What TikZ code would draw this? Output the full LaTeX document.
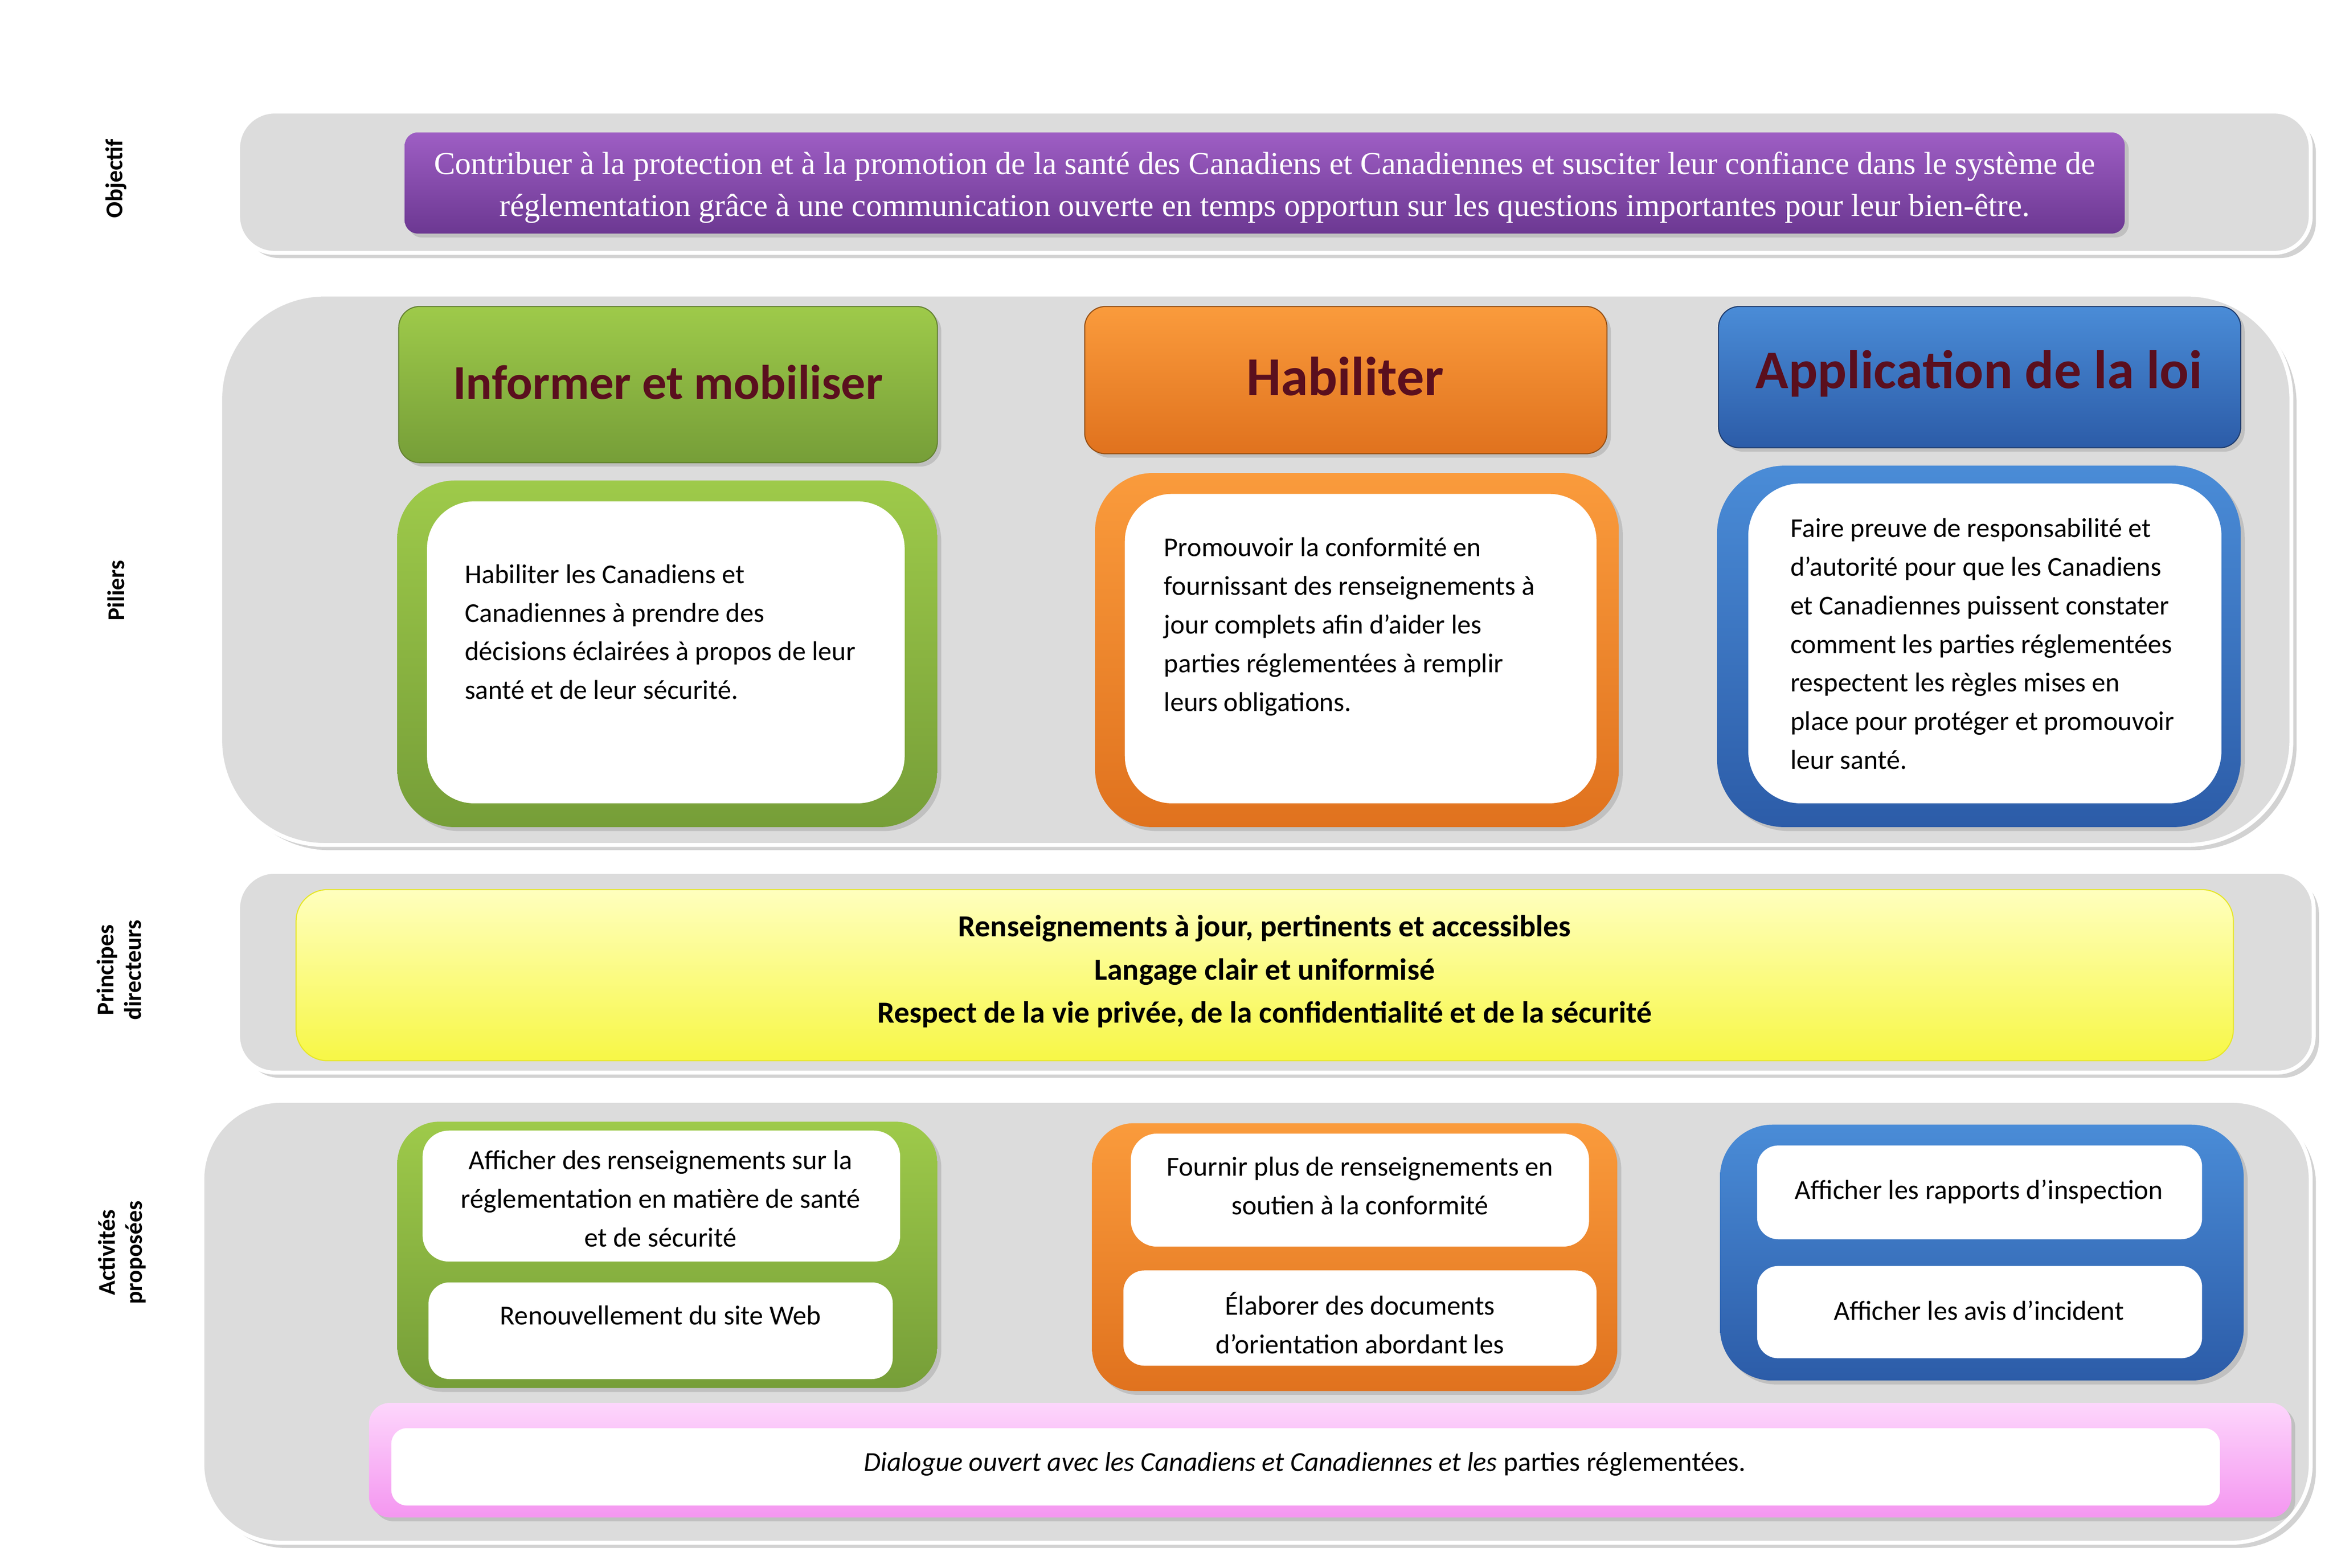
\documentclass[tikz,border=0pt]{standalone}
\usepackage{fontspec}
\setmainfont{Carlito}
\newfontfamily\serifx{Liberation Serif}
\usetikzlibrary{shadows}
\definecolor{hdr}{HTML}{5A0F1E}
\definecolor{panel}{HTML}{DCDCDC}
\tikzset{
 panel/.style={fill=panel,draw=white,line width=1.5pt,drop shadow={opacity=0.35,shadow xshift=2pt,shadow yshift=-2pt}},
 gbox/.style={top color={rgb,255:red,158;green,202;blue,74}, bottom color={rgb,255:red,118;green,158;blue,56}},
 obox/.style={top color={rgb,255:red,250;green,155;blue,60}, bottom color={rgb,255:red,224;green,114;blue,30}},
 bbox/.style={top color={rgb,255:red,74;green,140;blue,215}, bottom color={rgb,255:red,44;green,92;blue,168}},
 pbox/.style={top color={rgb,255:red,158;green,94;blue,196}, bottom color={rgb,255:red,108;green,56;blue,146}},
 ybox/.style={top color={rgb,255:red,255;green,255;blue,190}, bottom color={rgb,255:red,247;green,247;blue,70},draw={rgb,255:red,230;green,230;blue,40}},
 kbox/.style={top color={rgb,255:red,253;green,214;blue,252}, bottom color={rgb,255:red,244;green,150;blue,240}},
 frame/.style={drop shadow={opacity=0.3,shadow xshift=1.5pt,shadow yshift=-1.5pt}},
 white/.style={fill=white,draw=none},
 body/.style={font=\fontsize{10.4}{14.8}\selectfont,align=left,anchor=north west,inner sep=0pt},
 act/.style={font=\fontsize{10.5}{14.8}\selectfont,align=center,inner sep=0pt},
 lab/.style={font=\bfseries\fontsize{9.2}{10.5}\selectfont,rotate=90,align=center},
 head/.style={font=\bfseries,text=hdr}
}
\begin{document}
\begin{tikzpicture}[x=0.02cm,y=-0.02cm]
\useasboundingbox[fill=white] (0,0) rectangle (1568,1054);
% panels
\fill[panel,rounded corners=14pt] (160,75) rectangle (1553,170);
\fill[panel,rounded corners=40pt] (148,198) rectangle (1540,568);
\fill[panel,rounded corners=14pt] (160,586) rectangle (1555,721);
\fill[panel,rounded corners=30pt] (136,740) rectangle (1553,1037);
% labels
\node[lab] (l1) at (78,120) {Objectif};
\node[lab] (l2) at (78,397) {Piliers};
\node[lab] (l3) at (80,652) {Principes\\directeurs};
\begin{scope}
\clip (40,780) rectangle (104,884);
\node[lab,anchor=center] (l4) at (82,842) {Activités\\proposées};
\end{scope}
% objective
\shade[pbox,frame,rounded corners=5pt] (272,89) rectangle (1428,157);
\begin{scope}
\clip (272,89) rectangle (1428,150);
\node[text=white,font=\serifx\fontsize{12.2}{16}\selectfont,align=center] (obj) at (850,126) {Contribuer à la protection et à la promotion de la santé des Canadiens et Canadiennes et susciter leur confiance dans le système de\\réglementation grâce à une communication ouverte en temps opportun sur les questions importantes pour leur bien-être.};
\end{scope}
% headers
\shade[gbox,frame,rounded corners=8pt,draw={rgb,255:red,100;green,130;blue,50}] (268,206) rectangle (630,311);
\node[head,font=\bfseries\fontsize{18.6}{22}\selectfont] (h1) at (449,257) {Informer et mobiliser};
\shade[obox,frame,rounded corners=8pt,draw={rgb,255:red,150;green,80;blue,20}] (729,206) rectangle (1080,305);
\node[head,font=\bfseries\fontsize{21}{24}\selectfont] (h2) at (904,253) {Habiliter};
\shade[bbox,frame,rounded corners=8pt,draw={rgb,255:red,30;green,60;blue,110}] (1155,206) rectangle (1506,301);
\node[head,font=\bfseries\fontsize{20.8}{24}\selectfont] (h3) at (1330,251) {Application de la loi};
% pillar bodies
\shade[gbox,frame,rounded corners=22pt] (267,323) rectangle (630,556);
\fill[white,rounded corners=18pt] (287,337) rectangle (608,540);
\node[body] (b1) at (312,379) {Habiliter les Canadiens et\\Canadiennes à prendre des\\décisions éclairées à propos de leur\\santé et de leur sécurité.};
\shade[obox,frame,rounded corners=22pt] (736,318) rectangle (1088,556);
\fill[white,rounded corners=18pt] (756,332) rectangle (1073,540);
\node[body] (b2) at (782,361) {Promouvoir la conformité en\\fournissant des renseignements à\\jour complets afin d’aider les\\parties réglementées à remplir\\leurs obligations.};
\shade[bbox,frame,rounded corners=26pt] (1154,313) rectangle (1506,556);
\fill[white,rounded corners=20pt] (1175,325) rectangle (1493,540);
\node[body] (b3) at (1203,348) {Faire preuve de responsabilité et\\d’autorité pour que les Canadiens\\et Canadiennes puissent constater\\comment les parties réglementées\\respectent les règles mises en\\place pour protéger et promouvoir\\leur santé.};
% principles
\shade[ybox,rounded corners=12pt] (199,598) rectangle (1501,713);
\node[font=\bfseries\fontsize{11.7}{14.5}\selectfont,align=center] (pr) at (850,653) {Renseignements à jour, pertinents et accessibles\\[2pt]Langage clair et uniformisé\\[2pt]Respect de la vie privée, de la confidentialité et de la sécurité};
% activities green
\shade[gbox,frame,rounded corners=16pt] (267,754) rectangle (630,933);
\fill[white,rounded corners=10pt] (284,760) rectangle (605,848);
\begin{scope}
\clip (284,760) rectangle (605,840);
\node[act,anchor=north] (a1) at (444,773) {Afficher des renseignements sur la\\réglementation en matière de santé\\et de sécurité};
\end{scope}
\fill[white,rounded corners=8pt] (288,862) rectangle (600,927);
\node[act] (a2) at (444,884) {Renouvellement du site Web};
% orange
\shade[obox,frame,rounded corners=16pt] (734,755) rectangle (1087,935);
\fill[white,rounded corners=10pt] (760,762) rectangle (1068,838);
\node[act] (a3) at (914,797) {Fournir plus de renseignements en\\soutien à la conformité};
\fill[white,rounded corners=8pt] (755,854) rectangle (1073,918);
\begin{scope}
\clip (755,854) rectangle (1073,914);
\node[act,anchor=north] (a4) at (914,868) {Élaborer des documents\\d’orientation abordant les\\questions};
\end{scope}
% blue
\shade[bbox,frame,rounded corners=20pt] (1156,756) rectangle (1508,928);
\fill[white,rounded corners=8pt] (1181,770) rectangle (1480,833);
\node[act] (a5) at (1330,801) {Afficher les rapports d’inspection};
\fill[white,rounded corners=8pt] (1181,851) rectangle (1480,913);
\node[act] (a6) at (1330,881) {Afficher les avis d’incident};
% pink
\shade[kbox,frame,rounded corners=8pt] (248,943) rectangle (1540,1020);
\fill[white,rounded corners=6pt] (263,960) rectangle (1492,1012);
\node[act] (a7) at (877,984) {\itshape Dialogue ouvert avec les Canadiens et Canadiennes et les\upshape{} parties réglementées.};
\end{tikzpicture}
\end{document}
